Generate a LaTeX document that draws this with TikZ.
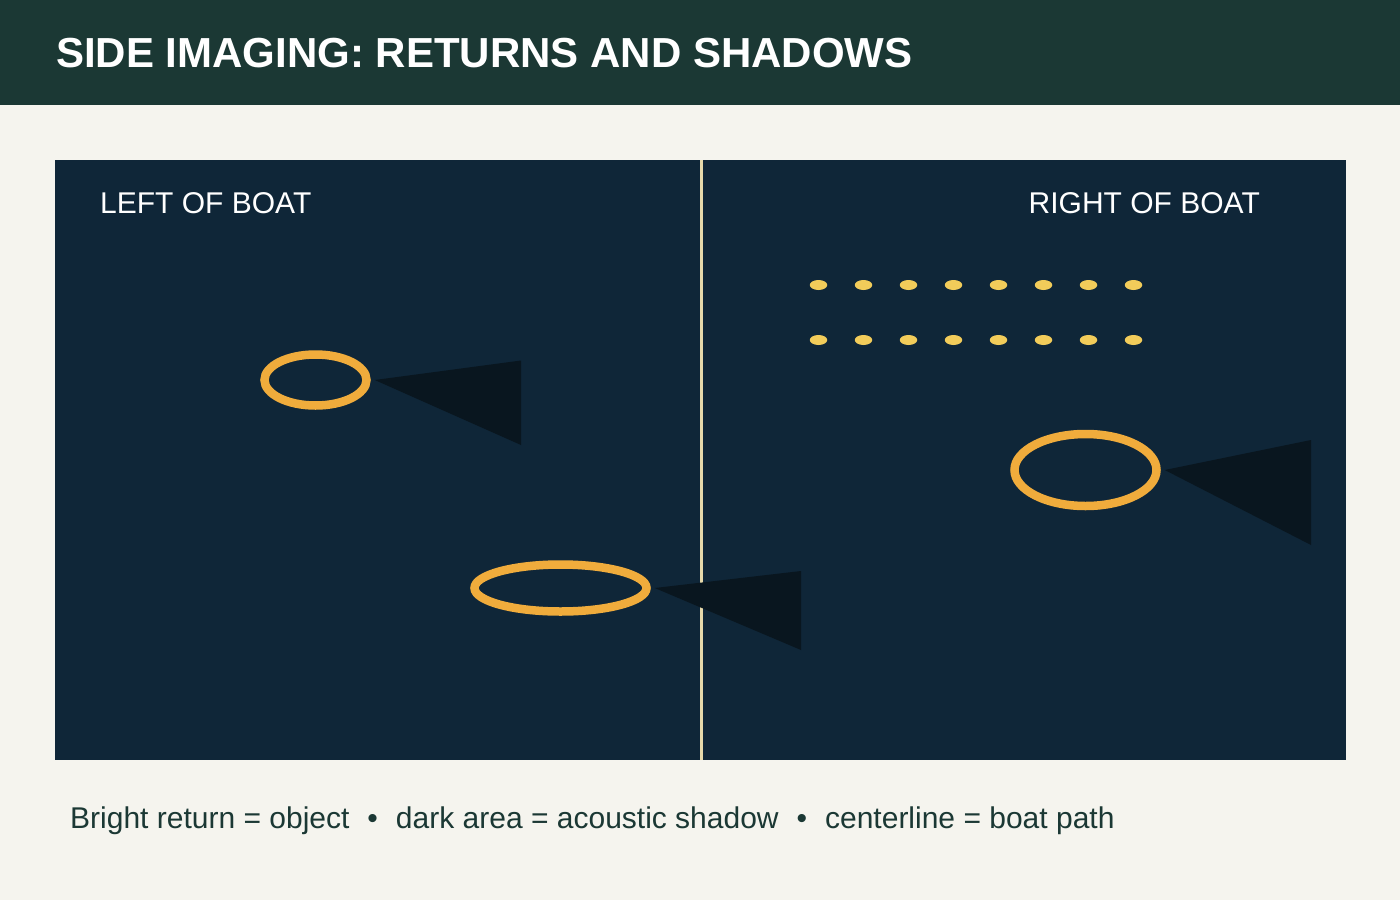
\documentclass[tikz,border=0pt]{standalone}
\usepackage{fontspec}
\setmainfont{Liberation Sans}
\usetikzlibrary{shapes.geometric}
\definecolor{headbg}{HTML}{1B3834}
\definecolor{pagebg}{HTML}{F5F4EE}
\definecolor{panelbg}{HTML}{0F2638}
\definecolor{cline}{HTML}{E6D9AB}
\definecolor{ring}{HTML}{F0AC3C}
\definecolor{shade}{HTML}{09161F}
\definecolor{dotc}{HTML}{F2CC5A}
\tikzset{
  ringobj/.style={ellipse, draw=ring, line width=8.5pt, inner sep=0pt},
  shadowfill/.style={fill=shade},
  dotobj/.style={ellipse, fill=dotc, inner sep=0pt, minimum width=17.5pt, minimum height=10pt},
  sidelabel/.style={text=white, font=\fontsize{30}{35}\selectfont, inner sep=0pt},
}
\begin{document}
\begin{tikzpicture}[x=1pt,y=-1pt]
\useasboundingbox (0,0) rectangle (1400,900);
\fill[pagebg] (0,0) rectangle (1400,900);
\fill[headbg] (0,0) rectangle (1400,105);
\node[anchor=base west, text=white, inner sep=0pt, font=\bfseries\fontsize{42}{48}\selectfont] (title) at (56,67) {SIDE IMAGING: RETURNS AND SHADOWS};
\fill[panelbg] (55,160) rectangle (1346,760);
\fill[cline] (699.5,160) rectangle (702.5,760);
\node[sidelabel, anchor=base west] (leftlab) at (100,213) {LEFT OF BOAT};
\node[sidelabel, anchor=base east] (rightlab) at (1260,213) {RIGHT OF BOAT};
% objects
\node[ringobj, minimum width=102pt, minimum height=51pt] (obj1) at (315.5,380) {};
\node[ringobj, minimum width=172pt, minimum height=47pt] (obj2) at (560.5,588) {};
\node[ringobj, minimum width=142pt, minimum height=72pt] (obj3) at (1085.5,470) {};
\coordinate (s1a) at (521,360.5); \coordinate (s1b) at (521,445);
\coordinate (s2a) at (801,571); \coordinate (s2b) at (801,650);
\coordinate (s3a) at (1311,440); \coordinate (s3b) at (1311,545);
\fill[shadowfill] ([xshift=4pt]obj1.east) -- (s1a) -- (s1b) -- cycle;
\fill[shadowfill] ([xshift=4pt]obj2.east) -- (s2a) -- (s2b) -- cycle;
\fill[shadowfill] ([xshift=4pt]obj3.east) -- (s3a) -- (s3b) -- cycle;
% dots
\foreach \k in {0,...,7}{
  \node[dotobj] (dt\k) at (818.5+45*\k,285) {};
  \node[dotobj] (db\k) at (818.5+45*\k,340) {};
}
\node[anchor=base west, text=headbg, inner sep=0pt, font=\fontsize{30}{35}\selectfont] (legend) at (70,828) {Bright return = object\hspace{0.6em}\textbullet\hspace{0.6em}dark area = acoustic shadow\hspace{0.6em}\textbullet\hspace{0.6em}centerline = boat path};
\end{tikzpicture}
\end{document}
